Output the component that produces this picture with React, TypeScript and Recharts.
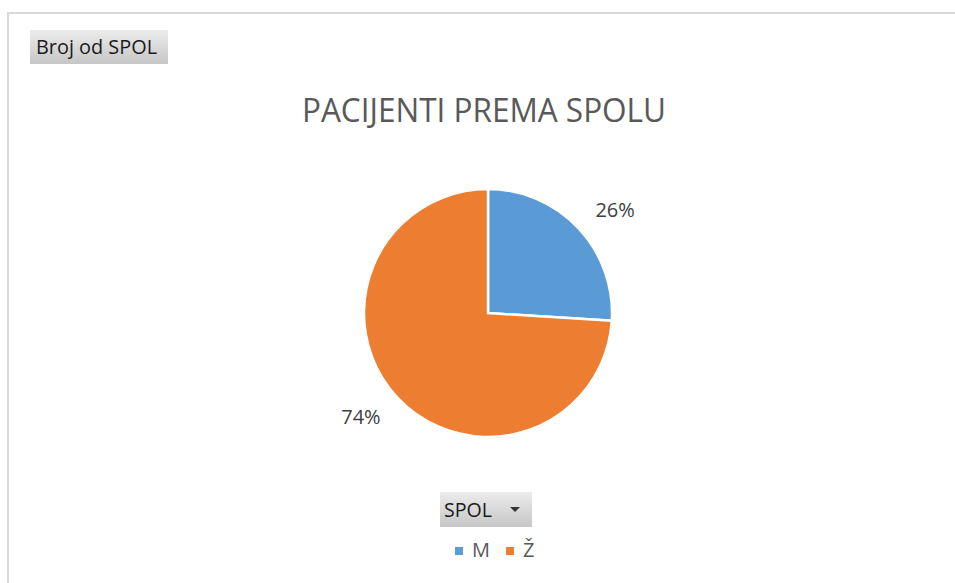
import { PieChart, Pie, Cell, Legend } from 'recharts'

const categories = ['M', 'Ž']
const shares = [26, 74]
const colors = ['#5b9bd5', '#ed7d31']

const data = categories.map((name, i) => ({ name, value: shares[i] }))

const RADIAN = Math.PI / 180
const font = '"Open Sans", sans-serif'

// Excel puts the best-fit labels a few degrees off the slice middle
function renderLabel(props: any) {
  const { cx, cy, midAngle, outerRadius, percent } = props
  const r = outerRadius + 40
  const a = (midAngle - 4) * RADIAN
  const x = cx + r * Math.cos(-a)
  const y = cy + r * Math.sin(-a)
  return (
    <text x={x} y={y} fill="#404040" fontSize={20} fontFamily={font} textAnchor="middle" dominantBaseline="central">
      {`${Math.round(percent * 100)}%`}
    </text>
  )
}

function LegendRow(props: any) {
  const { payload } = props
  return (
    <div style={{ display: 'flex', alignItems: 'center', fontFamily: font, fontSize: 20, color: '#595959' }}>
      {payload.map((p: any, i: number) => (
        <span key={p.value} style={{ display: 'flex', alignItems: 'center', marginRight: i === 0 ? 16 : 0 }}>
          <span style={{ width: 8, height: 8, background: p.color, marginRight: 9, marginTop: 2 }} />
          {p.value}
        </span>
      ))}
    </div>
  )
}

const buttonStyle: React.CSSProperties = {
  position: 'absolute',
  background: 'linear-gradient(#ececec, #c6c6c6)',
  color: '#1a1a1a',
  fontFamily: font,
  fontSize: 19,
  boxSizing: 'border-box',
  display: 'flex',
  alignItems: 'center',
}

export default function App() {
  return (
    <div style={{ position: 'absolute', left: 0, top: 0, width: 955, height: 583, background: '#fff', overflow: 'hidden' }}>
      <div
        style={{
          position: 'absolute',
          left: 7,
          top: 12,
          width: 960,
          height: 600,
          borderTop: '2px solid #d9d9d9',
          borderLeft: '2px solid #d9d9d9',
          boxSizing: 'border-box',
        }}
      />
      <div style={{ ...buttonStyle, left: 30, top: 30, width: 138, height: 34, paddingLeft: 5 }}>
        <svg width={125} height={34}>
          <text x={1} y={24} fontFamily={font} fontSize={20} fill="#1a1a1a" textLength={121} lengthAdjust="spacingAndGlyphs">
            Broj od SPOL
          </text>
        </svg>
      </div>
      <svg style={{ position: 'absolute', left: 0, top: 0 }} width={955} height={140}>
        <text
          x={302}
          y={122}
          fontFamily={font}
          fontSize={33}
          fill="#595959"
          textLength={364}
          lengthAdjust="spacingAndGlyphs"
        >
          PACIJENTI PREMA SPOLU
        </text>
      </svg>
      <div style={{ position: 'absolute', left: 0, top: 0 }}>
        <PieChart width={955} height={583} margin={{ top: 0, right: 0, bottom: 0, left: 0 }}>
          <Pie
            data={data}
            dataKey="value"
            nameKey="name"
            cx={488}
            cy={313}
            outerRadius={124}
            startAngle={90}
            endAngle={-270}
            stroke="#ffffff"
            strokeWidth={2.5}
            label={renderLabel}
            labelLine={false}
            isAnimationActive={false}
          >
            {data.map((d, i) => (
              <Cell key={d.name} fill={colors[i]} />
            ))}
          </Pie>
          <Legend content={<LegendRow />} wrapperStyle={{ top: 536, left: 455, width: 120 }} />
        </PieChart>
      </div>
      <div style={{ ...buttonStyle, left: 440, top: 492, width: 92, height: 35 }}>
        <svg width={92} height={35}>
          <text x={4} y={25} fontFamily={font} fontSize={20} fill="#1a1a1a" textLength={48} lengthAdjust="spacingAndGlyphs">
            SPOL
          </text>
          <polygon points="70,15 80,15 75,20" fill="#333" />
        </svg>
      </div>
    </div>
  )
}
